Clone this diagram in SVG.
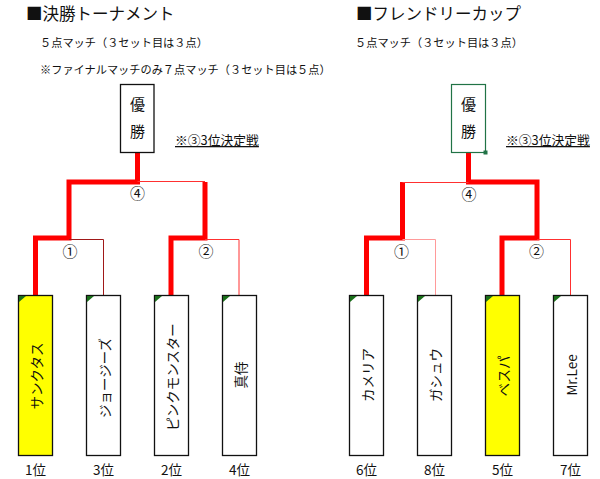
<svg xmlns="http://www.w3.org/2000/svg" width="600" height="479" viewBox="0 0 600 479">
<style>
text{font-family:"Noto Sans CJK JP","Noto Sans",sans-serif;fill:#111}
.title{font-size:16.5px}
.sub{font-size:11.2px}
.note{font-size:12.8px;text-decoration:underline}
.champ{font-size:15px}
.name{font-size:13.5px}
.rank{font-size:13.5px}
.num{font-size:15px}
.box{fill:#fff;stroke:#111;stroke-width:1.3}
.win{fill:#ffff00}
.tri{fill:#1a6e1a}
.thick{fill:none;stroke:#ff0000;stroke-width:5;stroke-linejoin:miter;stroke-linecap:butt}
.thin{fill:none;stroke:#ff3030;stroke-width:1}
</style>

<g id="titles">
<text class="title" x="26" y="20">■決勝トーナメント</text>
<text class="sub" x="40" y="47">５点マッチ（３セット目は３点）</text>
<text class="sub" x="40" y="74">※ファイナルマッチのみ７点マッチ（３セット目は５点）</text>
<text class="title" x="356" y="20">■フレンドリーカップ</text>
<text class="sub" x="355" y="47">５点マッチ（３セット目は３点）</text>
<text class="note" x="175" y="145">※③3位決定戦</text>
<text class="note" x="506" y="145">※③3位決定戦</text>
</g>

<g id="connectors">
<!-- left bracket -->
<polyline class="thick" points="35.5,295 35.5,238 69,238 69,182 137.5,182 137.5,153"/>
<polyline class="thick" points="171,295 171,238 205,238 205,182"/>
<line class="thin" x1="137.5" y1="181.5" x2="205" y2="181.5"/>
<polyline class="thin" points="69,239.5 103.5,239.5 103.5,295" style="stroke:#a01818"/>
<polyline class="thin" points="205,239.5 239,239.5 239,295"/>
<!-- right bracket -->
<polyline class="thick" points="502,295 502,238 537,238 537,182 468.5,182 468.5,153"/>
<polyline class="thick" points="366.5,295 366.5,238 402.5,238 402.5,182"/>
<line class="thin" x1="402.5" y1="182.5" x2="468.5" y2="182.5"/>
<polyline class="thin" points="402.5,239.5 435.5,239.5 435.5,295" style="stroke:#ff9a9a"/>
<polyline class="thin" points="537,239.5 570.5,239.5 570.5,295"/>
</g>

<g id="labels">
<text class="num" x="137.5" y="199" text-anchor="middle">④</text>
<text class="num" x="70" y="256.5" text-anchor="middle">①</text>
<text class="num" x="206" y="256.5" text-anchor="middle">②</text>
<text class="num" x="469" y="199.5" text-anchor="middle">④</text>
<text class="num" x="401.5" y="256.5" text-anchor="middle">①</text>
<text class="num" x="536.5" y="256.5" text-anchor="middle">②</text>
</g>

<g id="champ-left">
<rect class="box" x="120.5" y="84.5" width="33.5" height="68"/>
<text class="champ" x="137.5" y="110" text-anchor="middle">優</text>
<text class="champ" x="137.5" y="137" text-anchor="middle">勝</text>
</g>
<g id="champ-right">
<rect x="451.5" y="84.5" width="34" height="68" fill="#fff" stroke="#217346" stroke-width="1.2"/>
<rect x="483.5" y="150.5" width="4" height="4" fill="#217346"/>
<text class="champ" x="468.5" y="110" text-anchor="middle">優</text>
<text class="champ" x="468.5" y="137" text-anchor="middle">勝</text>
</g>

<g id="team-sanctus">
<rect class="box win" x="18.5" y="295.5" width="34" height="160"/>
<polygon class="tri" points="19,296 26,296 19,302"/>
<text class="name" transform="translate(36,376) rotate(-90)" text-anchor="middle" dominant-baseline="central">サンクタス</text>
<text class="rank" x="35.5" y="475" text-anchor="middle">1位</text>
</g>
<g id="team-georgies">
<rect class="box" x="86.5" y="295.5" width="34" height="160"/>
<polygon class="tri" points="87,296 94,296 87,302"/>
<text class="name" transform="translate(103.5,378) rotate(-90)" text-anchor="middle" dominant-baseline="central">ジョージーズ</text>
<text class="rank" x="103.5" y="475" text-anchor="middle">3位</text>
</g>
<g id="team-pinkmonster">
<rect class="box" x="154.5" y="295.5" width="34" height="160"/>
<polygon class="tri" points="155,296 162,296 155,302"/>
<text class="name" transform="translate(171.5,377) rotate(-90)" text-anchor="middle" dominant-baseline="central">ピンクモンスター</text>
<text class="rank" x="171.5" y="475" text-anchor="middle">2位</text>
</g>
<g id="team-shinji">
<rect class="box" x="222.5" y="295.5" width="34" height="160"/>
<polygon class="tri" points="223,296 230,296 223,302"/>
<text class="name" transform="translate(239.5,375) rotate(-90)" text-anchor="middle" dominant-baseline="central">真侍</text>
<text class="rank" x="239.5" y="475" text-anchor="middle">4位</text>
</g>

<g id="team-camellia">
<rect class="box" x="349.5" y="295.5" width="34" height="160"/>
<polygon class="tri" points="350,296 357,296 350,302"/>
<text class="name" transform="translate(366.5,375) rotate(-90)" text-anchor="middle" dominant-baseline="central">カメリア</text>
<text class="rank" x="366.5" y="475" text-anchor="middle">6位</text>
</g>
<g id="team-gashuu">
<rect class="box" x="417.5" y="295.5" width="34" height="160"/>
<polygon class="tri" points="418,296 425,296 418,302"/>
<text class="name" transform="translate(434.5,375) rotate(-90)" text-anchor="middle" dominant-baseline="central">ガシュウ</text>
<text class="rank" x="434.5" y="475" text-anchor="middle">8位</text>
</g>
<g id="team-vespa">
<rect class="box win" x="485.5" y="295.5" width="34" height="160"/>
<polygon class="tri" points="486,296 493,296 486,302"/>
<text class="name" transform="translate(502.5,376) rotate(-90)" text-anchor="middle" dominant-baseline="central">ベスパ</text>
<text class="rank" x="502.5" y="475" text-anchor="middle">5位</text>
</g>
<g id="team-mrlee">
<rect class="box" x="553.5" y="295.5" width="34" height="160"/>
<polygon class="tri" points="554,296 561,296 554,302"/>
<text class="name" transform="translate(570.5,375) rotate(-90)" text-anchor="middle" dominant-baseline="central">Mr.Lee</text>
<text class="rank" x="570.5" y="475" text-anchor="middle">7位</text>
</g>
</svg>
